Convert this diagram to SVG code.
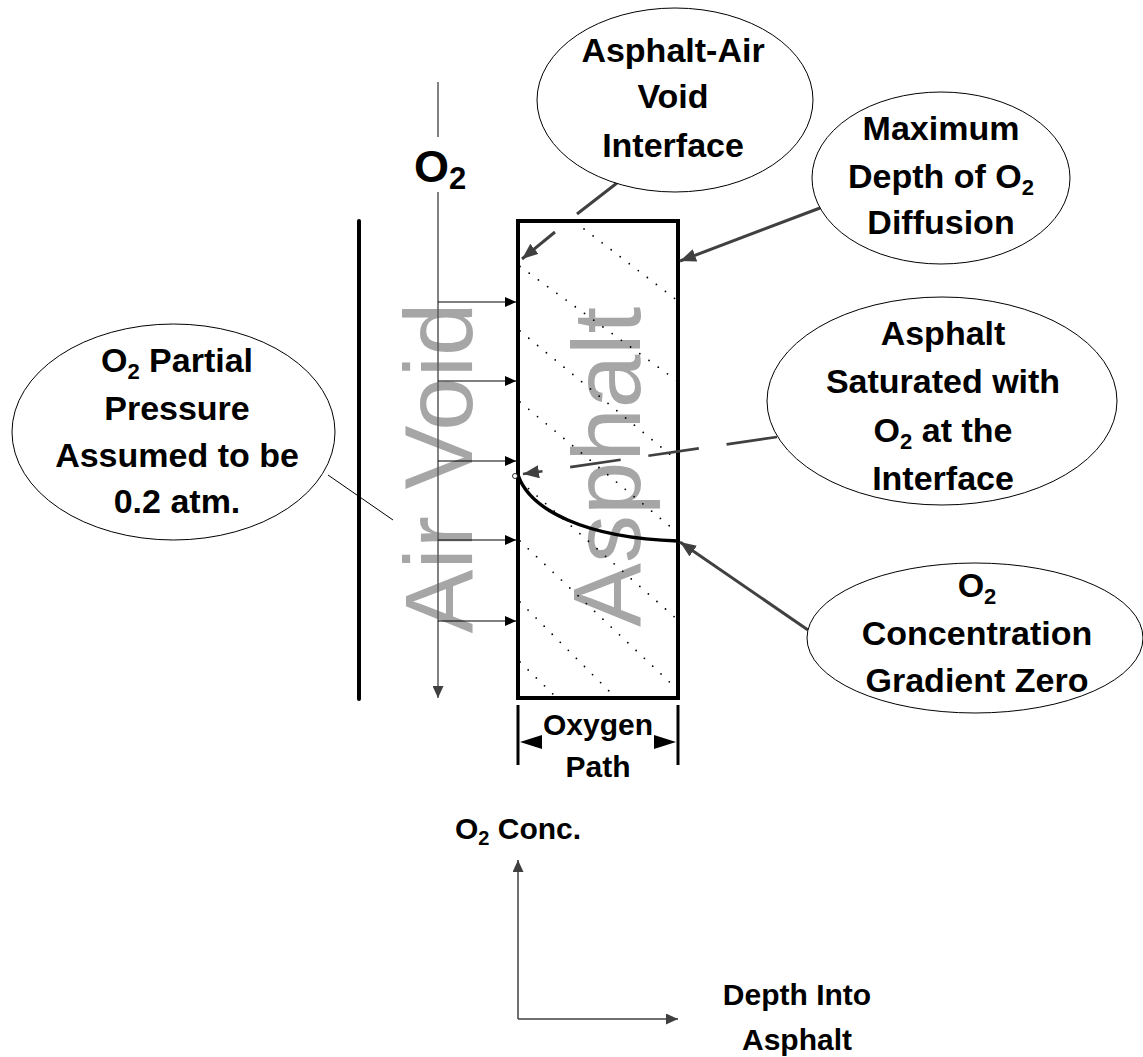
<svg xmlns="http://www.w3.org/2000/svg" width="1143" height="1057" viewBox="0 0 1143 1057">
<style>
.lbl{font-family:"Liberation Sans",Arial,sans-serif;font-weight:bold;font-size:34px;fill:#000;text-anchor:middle}
.sm{font-size:30px}
.bg{font-family:"Liberation Sans",Arial,sans-serif;font-size:96px;fill:#a6a6a6;text-anchor:middle}
.ell{fill:#fff;stroke:#000;stroke-width:1}
.gray{stroke:#404040;stroke-width:3;fill:none}
.hatch{stroke:#000;stroke-width:1.8;stroke-linecap:round;stroke-dasharray:0 11.4;fill:none}
.harr{stroke:#000;stroke-width:1.2;fill:none}
</style>
<defs>
<marker id="ah" markerUnits="userSpaceOnUse" markerWidth="17" markerHeight="13" refX="16" refY="6.5" orient="auto"><path d="M0,0 L16,6.5 L0,13 z" fill="#404040"/></marker>
<marker id="as" markerUnits="userSpaceOnUse" markerWidth="11" markerHeight="10" refX="11" refY="5" orient="auto"><path d="M0,0 L11,5 L0,10 z" fill="#000"/></marker>
<marker id="ag" markerUnits="userSpaceOnUse" markerWidth="12" markerHeight="11" refX="12" refY="5.5" orient="auto"><path d="M0,0 L12,5.5 L0,11 z" fill="#404040"/></marker>
<clipPath id="boxclip"><rect x="520" y="223" width="156" height="473"/></clipPath>
</defs>
<rect width="1143" height="1057" fill="#fff"/>

<g id="background-labels">
<text class="bg" transform="translate(472,468) rotate(-90)">Air Void</text>
<text class="bg" transform="translate(640,467) rotate(-90)">Asphalt</text>
</g>

<g id="asphalt-layer">
<g clip-path="url(#boxclip)">
<path class="hatch" d="M575,222 L678,301"/>
<path class="hatch" d="M520,266.5 L678,381.5"/>
<path class="hatch" d="M520,331 L678,461"/>
<path class="hatch" d="M520,402 L678,533"/>
<path class="hatch" d="M520,481 L678,620"/>
<path class="hatch" d="M520,541 L678,690"/>
<path class="hatch" d="M520,602 L616,698"/>
<path class="hatch" d="M520,662 L557,698"/>
</g>
<rect x="518" y="221" width="160" height="477" fill="none" stroke="#000" stroke-width="4"/>
</g>

<g id="air-void-boundary">
<line x1="359" y1="221" x2="359" y2="699" stroke="#000" stroke-width="4" stroke-linecap="round"/>
</g>

<g id="o2-label">
<text class="lbl" style="font-size:45px;text-anchor:start" x="414" y="182">O<tspan dy="7" style="font-size:31px">2</tspan></text>
</g>

<g id="concentration-curve">
<path d="M518,475 C530,510 585,538 678,541" fill="none" stroke="#000" stroke-width="3.5"/>
<circle cx="515" cy="476" r="2.5" fill="#fff" stroke="#000" stroke-width="0.8"/>
</g>

<g id="connectors">
<line x1="438" y1="82" x2="438" y2="137" stroke="#595959" stroke-width="1.5"/>
<path d="M438,192 L438,698" stroke="#595959" stroke-width="1.5" fill="none" marker-end="url(#ag)"/>
<path class="harr" d="M438,302 L516,302" marker-end="url(#as)"/>
<path class="harr" d="M438,381 L516,381" marker-end="url(#as)"/>
<path class="harr" d="M438,461 L516,461" marker-end="url(#as)"/>
<path class="harr" d="M438,540 L516,540" marker-end="url(#as)"/>
<path class="harr" d="M438,621 L516,621" marker-end="url(#as)"/>
<path class="gray" d="M617,183 L577,214 M555,232 L522,259" marker-end="url(#ah)"/>
<path class="gray" d="M820,208 L680,261" marker-end="url(#ah)"/>
<path class="gray" d="M808,630 L680,542" marker-end="url(#ah)"/>
<path d="M777,437 L523,474" stroke="#404040" stroke-width="2.6" fill="none" stroke-dasharray="51 28" marker-end="url(#ah)"/>
<line x1="328" y1="475" x2="393" y2="520" stroke="#000" stroke-width="1"/>
<line x1="518" y1="705" x2="518" y2="765" stroke="#000" stroke-width="3"/>
<line x1="678" y1="705" x2="678" y2="765" stroke="#000" stroke-width="3"/>
<polygon points="520,742 542,735 542,749" fill="#000"/>
<polygon points="676,742 654,735 654,749" fill="#000"/>
<path d="M518,1019 L518,860" stroke="#404040" stroke-width="1.5" fill="none" marker-end="url(#ag)"/>
<path d="M518,1019 L678,1019" stroke="#404040" stroke-width="1.5" fill="none" marker-end="url(#ag)"/>
</g>

<g id="node-interface">
<ellipse class="ell" cx="675" cy="100" rx="138" ry="92"/>
<text class="lbl" x="673" y="62">Asphalt-Air</text>
<text class="lbl" x="673" y="108">Void</text>
<text class="lbl" x="673" y="157">Interface</text>
</g>

<g id="node-max-depth">
<ellipse class="ell" cx="941" cy="178" rx="129" ry="86"/>
<text class="lbl" x="941" y="140">Maximum</text>
<text class="lbl" x="941" y="188">Depth of O<tspan dy="7" style="font-size:22px">2</tspan></text>
<text class="lbl" x="941" y="234">Diffusion</text>
</g>

<g id="node-saturated">
<ellipse class="ell" cx="942" cy="401" rx="175" ry="104"/>
<text class="lbl" x="943" y="345">Asphalt</text>
<text class="lbl" x="943" y="393">Saturated with</text>
<text class="lbl" x="943" y="442">O<tspan dy="7" style="font-size:22px">2</tspan><tspan dy="-7"> at the</tspan></text>
<text class="lbl" x="943" y="490">Interface</text>
</g>

<g id="node-gradient-zero">
<ellipse class="ell" cx="975" cy="638" rx="168" ry="75"/>
<text class="lbl" x="977" y="597">O<tspan dy="7" style="font-size:22px">2</tspan></text>
<text class="lbl" x="977" y="645">Concentration</text>
<text class="lbl" x="977" y="692">Gradient Zero</text>
</g>

<g id="node-partial-pressure">
<ellipse class="ell" cx="173.5" cy="432" rx="161.5" ry="108"/>
<text class="lbl" x="177" y="372">O<tspan dy="7" style="font-size:22px">2</tspan><tspan dy="-7"> Partial</tspan></text>
<text class="lbl" x="177" y="420">Pressure</text>
<text class="lbl" x="177" y="467">Assumed to be</text>
<text class="lbl" x="177" y="513">0.2 atm.</text>
</g>

<g id="oxygen-path-label">
<text class="lbl sm" x="598" y="735">Oxygen</text>
<text class="lbl sm" x="598" y="777">Path</text>
</g>

<g id="axis-labels">
<text class="lbl sm" x="518" y="839">O<tspan dy="6" style="font-size:20px">2</tspan><tspan dy="-6"> Conc.</tspan></text>
<text class="lbl sm" x="797" y="1005">Depth Into</text>
<text class="lbl sm" x="797" y="1050">Asphalt</text>
</g>
</svg>
